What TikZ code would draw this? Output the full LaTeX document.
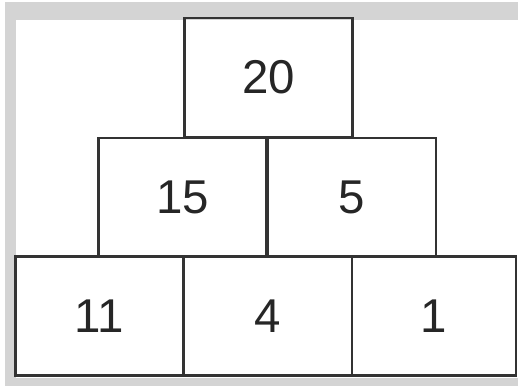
\documentclass[tikz,border=0pt]{standalone}
\usepackage{fontspec}
\setmainfont{Liberation Sans}
\usetikzlibrary{positioning}
\tikzset{
  numbox/.style={draw=black!80, line width=1.4pt, inner sep=0pt,
    minimum width=3.36cm, minimum height=2.38cm,
    font=\fontsize{27}{30}\selectfont, text=black!85},
}

\begin{document}
\begin{tikzpicture}[x=0.02cm, y=-0.02cm]
  \useasboundingbox (0,0) rectangle (518,386);
  % frame
  \fill[black!17] (5,2) rectangle (518,386);
  \fill[white] (16,20) rectangle (518,378);
  % top
  \node[numbox] (top) at (268.5,77.5) {20};
  % middle row
  \node[numbox] (midl) at (182.5,197.5) {15};
  \node[numbox] (midr) at (352,197.5) {5};
  % bottom row
  \node[numbox] (botl) at (99.5,316) {11};
  \node[numbox] (botm) at (268,316) {4};
  \node[numbox, minimum width=3.28cm] (botr) at (434,316) {1};
\end{tikzpicture}
\end{document}
